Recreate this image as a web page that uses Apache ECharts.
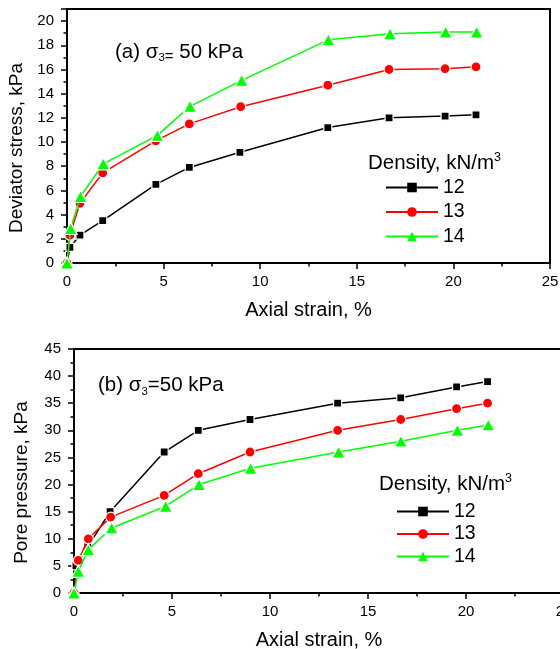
<!DOCTYPE html>
<html>
<head>
<meta charset="utf-8">
<script src="https://cdn.jsdelivr.net/npm/echarts@6/dist/echarts.min.js"></script>
<style>html,body{margin:0;padding:0;background:#fff;}#c{width:560px;height:649px;}</style>
</head>
<body>
<div id="c"></div>
<script>
// ---- Data: (a) deviator stress vs axial strain ----
const strainA12 = [0, 0.15, 0.67, 1.85, 4.6, 6.33, 8.95, 13.5, 16.67, 19.57, 21.17];
const devA12    = [0, 1.3, 2.3, 3.5, 6.5, 7.9, 9.15, 11.2, 12.0, 12.15, 12.25];
const strainA13 = [0, 0.15, 0.67, 1.85, 4.59, 6.33, 8.99, 13.5, 16.67, 19.57, 21.17];
const devA13    = [0, 2.3, 4.93, 7.46, 10.1, 11.5, 12.92, 14.7, 16.0, 16.06, 16.22];
const strainA14 = [0, 0.19, 0.7, 1.88, 4.68, 6.37, 9.04, 13.53, 16.72, 19.6, 21.2];
const devA14    = [0, 2.85, 5.5, 8.2, 10.55, 12.95, 15.1, 18.45, 18.95, 19.1, 19.1];
// ---- Data: (b) pore pressure vs axial strain ----
const strainB12 = [0, 0.1, 0.7, 1.84, 4.6, 6.34, 8.98, 13.45, 16.67, 19.52, 21.1];
const poreB12   = [0, 5, 8.5, 15, 26, 30, 32, 35, 36, 38, 39];
const strainB13 = [0, 0.22, 0.73, 1.87, 4.6, 6.34, 8.98, 13.45, 16.67, 19.52, 21.1];
const poreB13   = [0, 6, 10, 14, 18, 22, 26, 30, 32, 34, 35];
const strainB14 = [0, 0.22, 0.73, 1.92, 4.68, 6.38, 9.01, 13.5, 16.68, 19.56, 21.14];
const poreB14   = [0, 4, 8, 12, 16, 20, 23, 26, 28, 30, 31];
const densityNames = ['12', '13', '14'];

const FONT = "'Liberation Sans', Arial, sans-serif";
const zip = (xs, ys) => xs.map((x, i) => [x, ys[i]]);

const colors = ['#000000', '#ff0000', '#00ff00'];
const symbols = ['rect', 'circle', 'triangle'];
const sizes = [8, 10, [13, 12]];

function mkSeries(name, idx, data, axisIdx) {
  return {
    type: 'line', name: name, data: data,
    xAxisIndex: axisIdx, yAxisIndex: axisIdx,
    symbol: symbols[idx], symbolSize: sizes[idx],
    lineStyle: { color: colors[idx], width: 1.5 },
    itemStyle: { color: colors[idx], borderColor: '#ffffff', borderWidth: 1.2 },
    emphasis: { disabled: true },
    animation: false, z: 3 + idx
  };
}

function mkX(gi, max, gap) {
  return {
    type: 'value', gridIndex: gi, min: 0, max: max, interval: 5,
    name: 'Axial strain, %', nameLocation: 'middle', nameGap: gap,
    nameTextStyle: { fontFamily: FONT, fontSize: 20, color: '#000' },
    axisLine: { show: true, onZero: false, lineStyle: { color: '#000', width: 2 } },
    axisTick: { show: true, inside: false, length: 6, lineStyle: { color: '#000', width: 1.5 } },
    minorTick: { show: true, splitNumber: 2, length: 3.5, lineStyle: { color: '#000', width: 1.5 } },
    splitLine: { show: false },
    axisLabel: { fontFamily: FONT, fontSize: 15, color: '#000', margin: 11 }
  };
}

function mkY(gi, max, interval, name, gap, shift) {
  return {
    type: 'value', gridIndex: gi, min: 0, max: max, interval: interval,
    name: name, nameLocation: 'middle', nameGap: gap,
    nameTextStyle: { fontFamily: FONT, fontSize: 19, color: '#000', padding: [0, shift, 0, 0] },
    axisLine: { show: true, onZero: false, lineStyle: { color: '#000', width: 2 } },
    axisTick: { show: true, inside: false, length: 6, lineStyle: { color: '#000', width: 1.5 } },
    minorTick: { show: true, splitNumber: 2, length: 3.5, lineStyle: { color: '#000', width: 1.5 } },
    splitLine: { show: false },
    axisLabel: { fontFamily: FONT, fontSize: 15, color: '#000', margin: 13, showMaxLabel: max % interval === 0 }
  };
}

function mkLegend(left, top, gap) {
  return {
    data: densityNames.map(n => ({ name: n })),
    orient: 'vertical', left: left, top: top, padding: 0,
    itemWidth: 52, itemHeight: 12, itemGap: gap,
    itemStyle: { borderWidth: 0 },
    textStyle: { fontFamily: FONT, fontSize: 19.5, color: '#000' },
    selectedMode: false
  };
}

const chart = echarts.init(document.getElementById('c'), null, { renderer: 'canvas' });

const richBase = {
  n: { fontFamily: FONT, fontSize: 20.5, lineHeight: 24, color: '#000' },
  sub: { fontFamily: FONT, fontSize: 11.5, lineHeight: 12, verticalAlign: 'bottom', color: '#000' },
  eqs: { fontFamily: FONT, fontSize: 15, lineHeight: 17, verticalAlign: 'bottom', color: '#000' },
  sup: { fontFamily: FONT, fontSize: 12.5, lineHeight: 12, verticalAlign: 'top', color: '#000' }
};

chart.setOption({
  backgroundColor: '#ffffff',
  animation: false,
  grid: [
    { left: 67, top: 9, width: 483, height: 254, outerBoundsMode: 'none', containLabel: false, show: true, borderColor: '#000', borderWidth: 2, backgroundColor: 'transparent' },
    { left: 74, top: 349, width: 490, height: 244, outerBoundsMode: 'none', containLabel: false, show: true, borderColor: '#000', borderWidth: 2, backgroundColor: 'transparent' }
  ],
  xAxis: [mkX(0, 25, 37), mkX(1, 25, 37)],
  yAxis: [
    mkY(0, 21, 2, 'Deviator stress, kPa', 41, 24),
    mkY(1, 45, 5, 'Pore pressure, kPa', 43, 23)
  ],
  legend: [mkLegend(385, 177.5, 4.5), mkLegend(396, 501.5, 2.5)],
  graphic: [
    {
      type: 'text', x: 115, y: 52,
      style: { text: '{n|(a) σ}{sub|3}{eqs|=}{n| 50 kPa}', rich: richBase, align: 'left', verticalAlign: 'middle' }
    },
    {
      type: 'text', x: 98, y: 385.5,
      style: { text: '{n|(b) σ}{sub|3}{n|=50 kPa}', rich: richBase, align: 'left', verticalAlign: 'middle' }
    },
    {
      type: 'text', x: 368, y: 163,
      style: { text: '{n|Density, kN/m}{sup|3}', rich: richBase, align: 'left', verticalAlign: 'middle' }
    },
    {
      type: 'text', x: 379, y: 484.5,
      style: { text: '{n|Density, kN/m}{sup|3}', rich: richBase, align: 'left', verticalAlign: 'middle' }
    }
  ],
  series: [
    mkSeries('12', 0, zip(strainA12, devA12), 0),
    mkSeries('13', 1, zip(strainA13, devA13), 0),
    mkSeries('14', 2, zip(strainA14, devA14), 0),
    mkSeries('12', 0, zip(strainB12, poreB12), 1),
    mkSeries('13', 1, zip(strainB13, poreB13), 1),
    mkSeries('14', 2, zip(strainB14, poreB14), 1)
  ]
});
</script>
</body>
</html>
